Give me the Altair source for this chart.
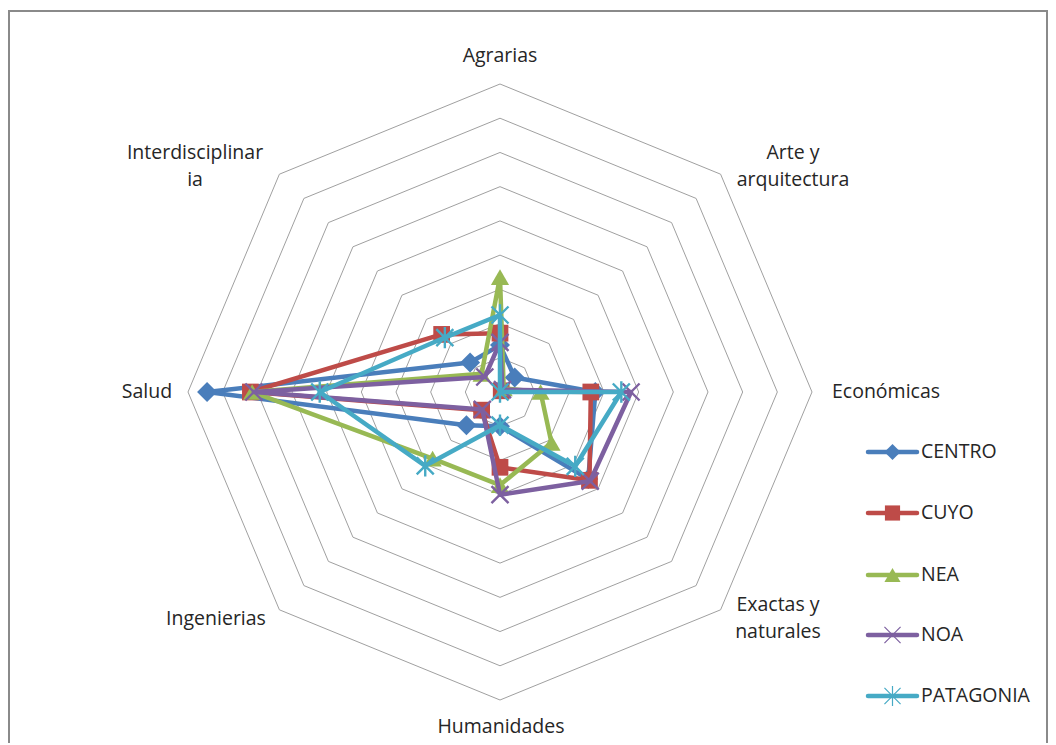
import altair as alt
import pandas as pd
import numpy as np

# ---------------- data ----------------
categories = ["Agrarias", "Arte y arquitectura", "Económicas", "Exactas y naturales",
              "Humanidades", "Ingenierias", "Salud", "Interdisciplinaria"]
category_display = ["Agrarias", "Arte y\narquitectura", "Económicas", "Exactas y\nnaturales",
                    "Humanidades", "Ingenierias", "Salud", "Interdisciplinar\nia"]
series_names = ["CENTRO", "CUYO", "NEA", "NOA", "PATAGONIA"]
centro = [1.37, 0.60, 2.75, 3.60, 1.00, 1.37, 8.45, 1.22]
cuyo = [1.72, 0.05, 2.62, 3.65, 2.20, 0.75, 7.20, 2.38]
nea = [3.36, 0.15, 1.17, 2.10, 2.72, 2.75, 7.15, 0.75]
noa = [1.45, 0.10, 3.78, 3.68, 3.00, 0.72, 7.10, 0.62]
patagonia = [2.25, 0.00, 3.50, 3.07, 0.97, 3.05, 5.20, 2.25]
n_rings = 9

# ---------------- styles / layout ----------------
W, H = 1040, 735
CX, CY = 492, 384          # centre of the radar in view pixels
RX, RY = 312, 308          # outer ring radius in pixels
colors = ["#4A7EBB", "#BE4B48", "#98B954", "#7D60A0", "#46AAC5"]
X_PATH = "M-1,-1L1,1M-1,1L1,-1"
STAR_PATH = "M-1,-1L1,1M-1,1L1,-1M0,-1.25L0,1.25"
shapes = ["diamond", "square", "triangle-up", X_PATH, STAR_PATH]
filled = [True, True, True, False, False]
sizes = [400, 280, 330, 290, 290]
leg_sizes = [260, 230, 260, 260, 260]
FONT = "Open Sans"
FS = 19.5
TXT = "#262626"
LH = 27

xs = alt.Scale(domain=[-n_rings, n_rings], range=[CX - RX, CX + RX], nice=False, zero=False)
ys = alt.Scale(domain=[-n_rings, n_rings], range=[CY + RY, CY - RY], nice=False, zero=False)
X = alt.X("x:Q", scale=xs, axis=None)
Y = alt.Y("y:Q", scale=ys, axis=None)

def page_to_x(px):
    return (px - 8 - CX) / RX * n_rings

def page_to_y(py):
    return (CY - (py - 8)) / RY * n_rings

angles = np.arange(len(categories)) * 2 * np.pi / len(categories)

# grid octagons
grid_rows = []
for k in range(1, n_rings + 1):
    for j in range(len(categories) + 1):
        a = angles[j % len(categories)]
        grid_rows.append({"ring": k, "j": j, "x": k * np.sin(a), "y": k * np.cos(a)})
grid = alt.Chart(pd.DataFrame(grid_rows)).mark_line(color="#a0a0a0", strokeWidth=1).encode(
    x=X, y=Y, detail="ring:N", order="j:Q")

layers = [grid]

# border (top, left, right)
layers.append(alt.Chart(pd.DataFrame({"a": [0]})).mark_rule(color="#8a8a8a", strokeWidth=2).encode(
    x=alt.value(0), x2=alt.value(W), y=alt.value(3)))
layers.append(alt.Chart(pd.DataFrame({"a": [0]})).mark_rule(color="#8a8a8a", strokeWidth=2).encode(
    x=alt.value(1), y=alt.value(2), y2=alt.value(H)))
layers.append(alt.Chart(pd.DataFrame({"a": [0]})).mark_rule(color="#8a8a8a", strokeWidth=2).encode(
    x=alt.value(W - 1), y=alt.value(2), y2=alt.value(H)))

# category labels (centre of first line, in page pixels)
label_page = [(500, 56), (793, 153), (886, 392), (778, 605),
              (501, 727), (216, 619), (147, 392), (195, 153)]
lab_df = pd.DataFrame({
    "label": category_display,
    "x": [page_to_x(p[0]) for p in label_page],
    "y": [page_to_y(p[1]) for p in label_page],
})
layers.append(alt.Chart(lab_df).mark_text(
    font=FONT, fontSize=FS, color=TXT, lineBreak="\n", lineHeight=LH,
    align="center", baseline="middle").encode(x=X, y=Y, text="label:N"))

# series
all_vals = [centro, cuyo, nea, noa, patagonia]
for name, vals, col, shp, fl, sz in zip(series_names, all_vals, colors, shapes, filled, sizes):
    rows = []
    for j in range(len(categories) + 1):
        i = j % len(categories)
        rows.append({"serie": name, "cat": categories[i], "o": j,
                     "x": vals[i] * np.sin(angles[i]), "y": vals[i] * np.cos(angles[i])})
    df = pd.DataFrame(rows)
    layers.append(alt.Chart(df).mark_line(color=col, strokeWidth=4.5, strokeJoin="round").encode(
        x=X, y=Y, order="o:Q"))
    pts = df.iloc[:-1]
    if fl:
        pm = alt.Chart(pts).mark_point(shape=shp, filled=True, size=sz, color=col, opacity=1)
    else:
        pm = alt.Chart(pts).mark_point(shape=shp, filled=False, size=sz, color=col,
                                       strokeWidth=2.4, opacity=1)
    layers.append(pm.encode(x=X, y=Y))

# legend
leg_y_page = [452, 513, 575, 635, 696]
leg_x1, leg_x2, leg_xt = 868, 917, 921
for name, col, shp, fl, sz, py in zip(series_names, colors, shapes, filled, leg_sizes, leg_y_page):
    ldf = pd.DataFrame({"serie": [name], "x": [page_to_x(leg_x1)], "x2": [page_to_x(leg_x2)],
                        "xm": [page_to_x((leg_x1 + leg_x2) / 2)], "xt": [page_to_x(leg_xt)],
                        "y": [page_to_y(py)]})
    layers.append(alt.Chart(ldf).mark_rule(color=col, strokeWidth=4.5, strokeCap="round").encode(
        x=X, x2="x2:Q", y=Y))
    if fl:
        pm = alt.Chart(ldf).mark_point(shape=shp, filled=True, size=sz, color=col, opacity=1)
    else:
        pm = alt.Chart(ldf).mark_point(shape=shp, filled=False, size=sz, color=col,
                                       strokeWidth=1.2, opacity=1)
    layers.append(pm.encode(x=alt.X("xm:Q", scale=xs, axis=None), y=Y))
    layers.append(alt.Chart(ldf).mark_text(font=FONT, fontSize=FS, color=TXT, align="left",
                                           baseline="middle").encode(
        x=alt.X("xt:Q", scale=xs, axis=None), y=Y, text="serie:N"))

chart = alt.layer(*layers).properties(
    width=W, height=H, autosize=alt.AutoSizeParams(type="none"), padding=0,
    background="white"
).configure_view(stroke=None)

chart.save("out.html", embed_options={"renderer": "svg", "actions": False})
